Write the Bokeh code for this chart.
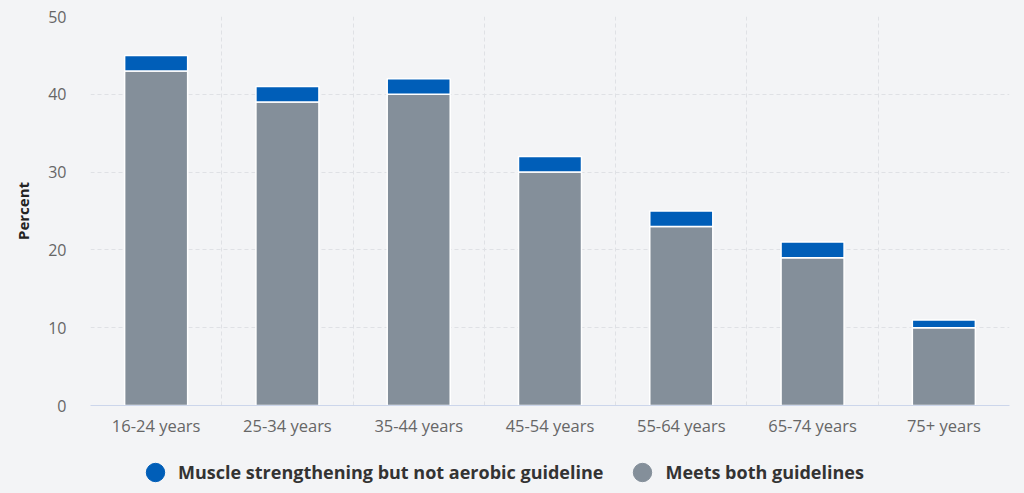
from bokeh.plotting import figure
from bokeh.layouts import column
from bokeh.models import ColumnDataSource, FixedTicker, Legend, LegendItem, Range1d
from bokeh.embed import file_html
from bokeh.resources import INLINE

categories = ["16-24 years", "25-34 years", "35-44 years", "45-54 years",
              "55-64 years", "65-74 years", "75+ years"]
meets_both = [43, 39, 40, 30, 23, 19, 10]
muscle_only = [2, 2, 2, 2, 2, 2, 1]
y_ticks = [0, 10, 20, 30, 40, 50]
series_names = ["Muscle strengthening but not aerobic guideline", "Meets both guidelines"]
series_colors = ["#005eb8", "#848f9a"]

n = len(categories)
xs = [i + 0.5 for i in range(n)]
tops = [a + b for a, b in zip(meets_both, muscle_only)]
src = ColumnDataSource(dict(x=xs, gray=meets_both, top=tops, base=meets_both))

BG = "#f3f4f6"
p = figure(width=1024, height=439, output_backend="svg", toolbar_location=None,
           x_range=Range1d(0, n), y_range=Range1d(0, 50),
           background_fill_color=BG, border_fill_color=BG,
           min_border_left=90, min_border_right=15, min_border_top=16, min_border_bottom=0)
p.outline_line_color = None

p.vbar(x="x", top="gray", bottom=0, width=0.48, source=src,
       fill_color=series_colors[1], line_color="white", line_width=1.5)
p.vbar(x="x", top="top", bottom="base", width=0.48, source=src,
       fill_color=series_colors[0], line_color="white", line_width=1.5)

# axes
p.xaxis.ticker = FixedTicker(ticks=xs)
p.xaxis.major_label_overrides = {x: c for x, c in zip(xs, categories)}
p.xaxis.major_tick_line_color = None
p.xaxis.minor_tick_line_color = None
p.xaxis.axis_line_color = "#ccd6eb"
p.xaxis.major_label_text_font = "Open Sans"
p.xaxis.major_label_text_font_size = "16.5px"
p.xaxis.major_label_text_color = "#666666"
p.xaxis.major_label_standoff = 2

p.yaxis.ticker = FixedTicker(ticks=y_ticks)
p.yaxis.axis_line_color = None
p.yaxis.major_tick_line_color = None
p.yaxis.minor_tick_line_color = None
p.yaxis.major_label_text_font = "Open Sans"
p.yaxis.major_label_text_font_size = "16px"
p.yaxis.major_label_text_color = "#666666"
p.yaxis.major_label_standoff = 18
p.yaxis.axis_label = "Percent"
p.yaxis.axis_label_text_font = "Open Sans"
p.yaxis.axis_label_text_font_style = "bold"
p.yaxis.axis_label_text_font_size = "15px"
p.yaxis.axis_label_text_color = "#222222"
p.yaxis.axis_label_standoff = 12

p.ygrid.grid_line_color = "#dfe1e5"
p.ygrid.grid_line_dash = "4 3"
p.xgrid.ticker = FixedTicker(ticks=list(range(n + 1)))
p.xgrid.grid_line_color = "#dfe1e5"
p.xgrid.grid_line_dash = "4 3"

# legend figure below
lf = figure(width=1024, height=54, output_backend="svg", toolbar_location=None,
            x_range=Range1d(0, 1), y_range=Range1d(0, 1),
            background_fill_color=BG, border_fill_color=BG,
            min_border=0)
lf.outline_line_color = None
lf.axis.visible = False
lf.grid.visible = False
nan = float("nan")
items = []
for name, col in zip(series_names, series_colors):
    r = lf.scatter(x=[nan], y=[nan], marker="circle", size=19, fill_color=col, line_color=col)
    items.append(LegendItem(label=name, renderers=[r]))
legend = Legend(items=items, orientation="horizontal", location=(42, -2),
                background_fill_alpha=0, border_line_color=None,
                label_text_font="Open Sans", label_text_font_style="bold",
                label_text_font_size="18px", label_text_color="#333333",
                spacing=16, glyph_width=46, glyph_height=46, label_standoff=0,
                margin=0, padding=0)
lf.add_layout(legend, "center")

layout = column(p, lf, spacing=0, styles={"background-color": BG})
open("out.html", "w").write(file_html(layout, INLINE))
